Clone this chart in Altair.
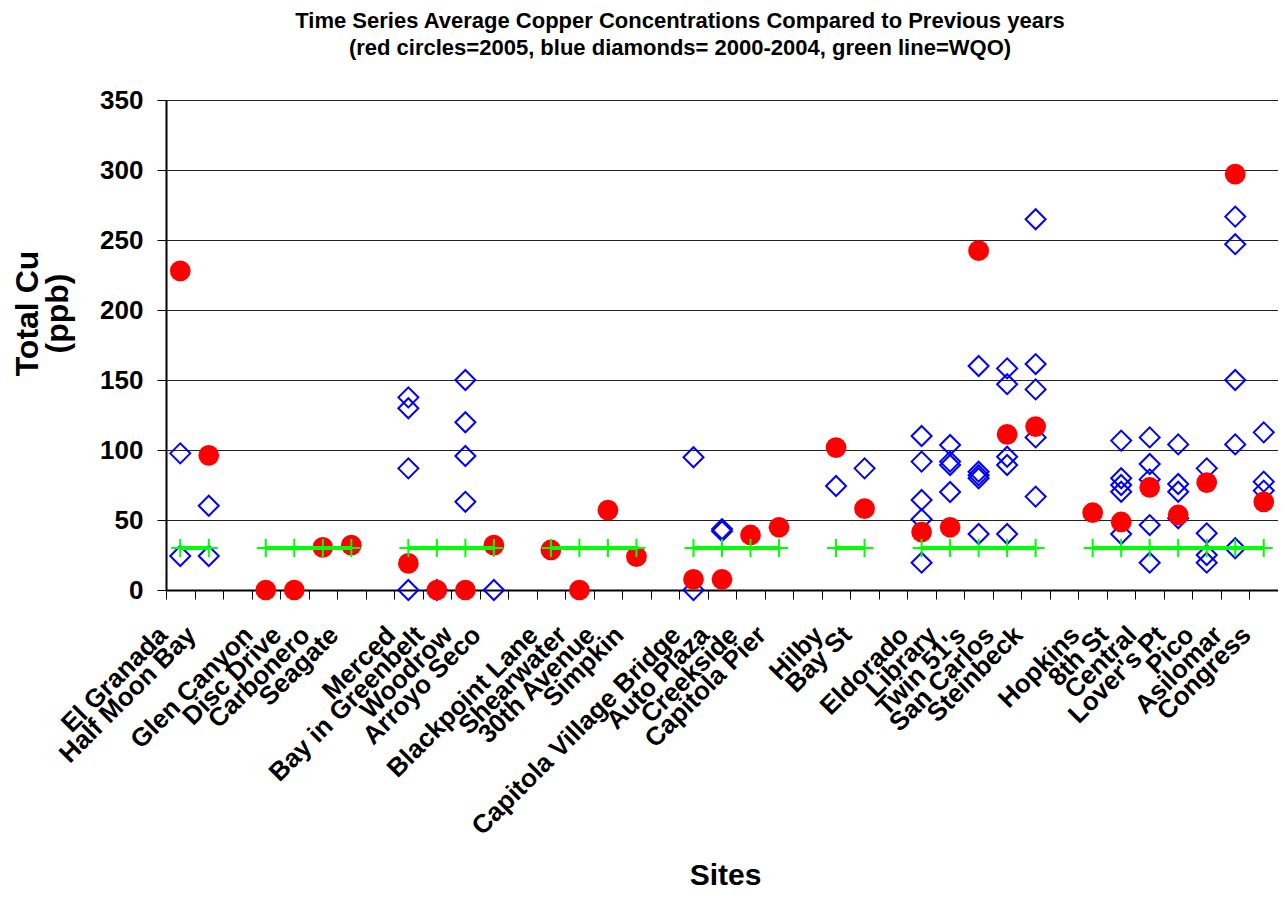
import altair as alt
import pandas as pd

FONT = "Liberation Sans"

# x slots (gap slots keep the empty spaces between site groups)
categories = [
    "El Granada", "Half Moon Bay", "gap1",
    "Glen Canyon", "Disc Drive", "Carbonero", "Seagate", "gap2",
    "Merced", "Bay in Greenbelt", "Woodrow", "Arroyo Seco", "gap3",
    "Blackpoint Lane", "Shearwater", "30th Avenue", "Simpkin", "gap4",
    "Capitola Village Bridge", "Auto Plaza", "Creekside", "Capitola Pier", "gap5",
    "Hilby", "Bay St", "gap6",
    "Eldorado", "Library", "Twin 51's", "San Carlos", "Steinbeck", "gap7",
    "Hopkins", "8th St", "Central", "Lover's Pt", "Pico", "Asilomar", "Congress",
]
sites = [c for c in categories if not c.startswith("gap")]

# 2005 averages (red circles)
red_2005 = [228, 96.2,
            0, 0, 30.5, 32,
            19, 0, 0, 32,
            28.6, 0, 57, 23.8,
            7.6, 7.6, 39.3, 44.8,
            101.7, 58.1,
            41.4, 44.8, 242.4, 111.2, 116.7,
            55.2, 48.6, 73.3, 53.6, 76.7, 297, 63]

# 2000-2004 averages (blue diamonds)
blue_2000_2004 = [
    [97.6, 24.3], [60.2, 24.3],
    [], [], [], [],
    [137.6, 129.8, 86.9, 0], [0], [150, 119.8, 95.7, 63], [0],
    [], [], [], [],
    [94.8, 0], [43.5, 42], [], [],
    [74.3], [86.9],
    [110, 91.7, 64.3, 50.5, 19.5], [103.6, 91.7, 89.3, 70],
    [160, 84.5, 82, 79.8, 40], [158.3, 147, 95.2, 89.3, 40],
    [264.8, 161.4, 143.3, 109, 66.7],
    [], [106.7, 79.8, 75, 70.2, 40], [109, 90, 79, 46.4, 19.5],
    [104, 75.7, 70.2, 51.2], [86.9, 40.5, 25, 19.5],
    [266.7, 247, 150, 104, 29.8], [112.6, 77.4, 71],
]

# water quality objective (green line), drawn per site group
wqo_value = 30
wqo_group = [1, 1, 2, 2, 2, 2, 3, 3, 3, 3, 4, 4, 4, 4, 5, 5, 5, 5,
             6, 6, 7, 7, 7, 7, 7, 8, 8, 8, 8, 8, 8, 8]

y_ticks = [0, 50, 100, 150, 200, 250, 300, 350]

red_df = pd.DataFrame({"site": sites, "cu": red_2005})
blue_df = pd.DataFrame([{"site": s, "cu": v}
                        for s, vals in zip(sites, blue_2000_2004) for v in vals])
wqo_df = pd.DataFrame({"site": sites, "cu": [wqo_value] * len(sites), "grp": wqo_group})

x_enc = alt.X(
    "site:N",
    sort=categories,
    scale=alt.Scale(type="band", domain=categories, paddingInner=0, paddingOuter=0),
    axis=alt.Axis(
        title="Sites", titleFont=FONT, titleFontSize=30, titleFontWeight="bold",
        titleColor="black", titleX=559, titleY=294, titleBaseline="alphabetic",
        labelExpr="indexof(datum.label, 'gap') == 0 ? '' : datum.label",
        labelAngle=-45, labelAlign="right", labelBaseline="middle",
        labelFont=FONT, labelFontSize=26, labelFontWeight="bold", labelColor="black",
        labelPadding=31.5, labelOffset=-17.5, labelLimit=600, labelOverlap=False,
        tickBand="extent", tickSize=9, tickColor="black", tickWidth=1,
        domainColor="black", domainWidth=2, grid=False,
    ),
)
y_enc = alt.Y(
    "cu:Q",
    scale=alt.Scale(domain=[0, 350], nice=False, zero=True),
    axis=alt.Axis(
        title=["Total Cu", "(ppb)"], titleFont=FONT, titleFontSize=32,
        titleFontWeight="bold", titleColor="black", titleAngle=270,
        titleX=-129, titleY=213, titleAlign="center", titleBaseline="alphabetic",
        titleLineHeight=30,
        values=y_ticks, labelFont=FONT, labelFontSize=26, labelFontWeight="bold",
        labelColor="black", labelPadding=14,
        tickSize=9, tickColor="black", tickWidth=1,
        domainColor="black", domainWidth=2,
        grid=True, gridColor="#222222", gridWidth=1,
    ),
)

blue = alt.Chart(blue_df).mark_point(
    shape="diamond", filled=False, size=400, color="#0000FF",
    strokeWidth=2, opacity=1,
).encode(x=x_enc, y=y_enc)

red = alt.Chart(red_df).mark_circle(
    size=430, color="#FF0000", opacity=1,
).encode(x=x_enc, y=y_enc)

wqo_line = alt.Chart(wqo_df).mark_line(
    color="#00FF00", strokeWidth=4,
).encode(x=x_enc, y=y_enc, detail="grp:N")

wqo_plus = alt.Chart(wqo_df).mark_point(
    shape="M-1,0L1,0M0,-1L0,1", filled=False, size=324,
    color="#00FF00", strokeWidth=2, opacity=1,
).encode(x=x_enc, y=y_enc)

chart = alt.layer(blue, red, wqo_line, wqo_plus).properties(
    width=1112, height=490,
    autosize=alt.AutoSizeParams(type="none"),
    padding={"left": 158, "top": 92, "right": 0, "bottom": 303},
    title=alt.TitleParams(
        text=["Time Series Average Copper Concentrations Compared to Previous years",
              "(red circles=2005, blue diamonds= 2000-2004, green line=WQO)"],
        font=FONT, fontSize=22, fontWeight="bold", color="black",
        anchor="middle", frame="group", dx=-42, offset=27, lineHeight=27,
    ),
).configure_view(
    stroke="black", strokeWidth=2,
).configure(background="white")

chart.save("out.html", embed_options={"renderer": "svg", "actions": False})
